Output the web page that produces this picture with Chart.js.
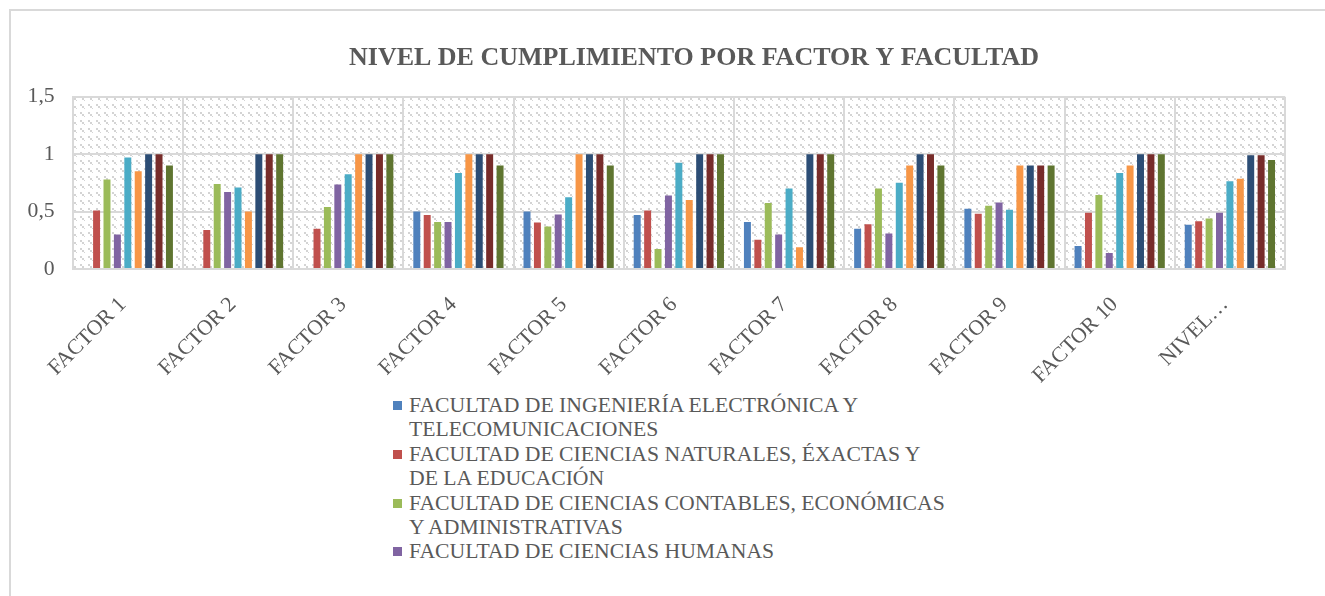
<!DOCTYPE html>
<html lang="es">
<head>
    <meta charset="UTF-8">
    <title>Nivel de cumplimiento por factor y facultad</title>
    <script src="https://cdn.jsdelivr.net/npm/chart.js"></script>
    <style>
        html, body { margin: 0; padding: 0; background: #fff; overflow: hidden; }
        #marco {
            position: absolute; left: 9px; top: 9px;
            width: 1400px; height: 700px;
            border: 2px solid #d9d9d9;
        }
        #grafico { position: absolute; left: 0; top: 0; }
        #leyenda {
            position: absolute; left: 393px; top: 393px;
            font-family: "Liberation Serif", "Times New Roman", serif;
            font-size: 21.7px; line-height: 24.4px; color: #595959;
        }
        .item { position: relative; padding-left: 16px; width: 540px; }
        .item span.caja {
            position: absolute; left: 0; top: 8px; width: 9px; height: 9px;
        }
    </style>
</head>
<body>
    <div id="marco"></div>
    <canvas id="grafico" width="1388" height="390"></canvas>
    <div id="leyenda"></div>
    <script>
    const factores = ['FACTOR 1', 'FACTOR 2', 'FACTOR 3', 'FACTOR 4', 'FACTOR 5', 'FACTOR 6',
        'FACTOR 7', 'FACTOR 8', 'FACTOR 9', 'FACTOR 10', 'NIVEL…'];

    const facultades = [
        'FACULTAD DE INGENIERÍA ELECTRÓNICA Y TELECOMUNICACIONES',
        'FACULTAD DE CIENCIAS NATURALES, ÉXACTAS Y DE LA EDUCACIÓN',
        'FACULTAD DE CIENCIAS CONTABLES, ECONÓMICAS Y ADMINISTRATIVAS',
        'FACULTAD DE CIENCIAS HUMANAS',
        'FACULTAD DE CIENCIAS DE LA SALUD',
        'FACULTAD DE DERECHO, CIENCIAS POLÍTICAS Y SOCIALES',
        'FACULTAD DE ARTES',
        'FACULTAD DE CIENCIAS AGRARIAS',
        'FACULTAD DE INGENIERÍA CIVIL'
    ];

    const colores = ['#4F81BD', '#C0504D', '#9BBB59', '#8064A2', '#4BACC6',
        '#F79646', '#2C4D75', '#772C2A', '#5F7530'];

    const electronica = [0, 0, 0, 0.5, 0.5, 0.47, 0.41, 0.35, 0.525, 0.2, 0.385];
    const naturales = [0.51, 0.34, 0.35, 0.47, 0.405, 0.51, 0.255, 0.39, 0.48, 0.49, 0.415];
    const contables = [0.78, 0.74, 0.54, 0.41, 0.37, 0.175, 0.575, 0.70, 0.55, 0.645, 0.44];
    const humanas = [0.30, 0.67, 0.735, 0.41, 0.475, 0.64, 0.30, 0.31, 0.58, 0.14, 0.49];
    const salud = [0.97, 0.71, 0.825, 0.835, 0.625, 0.925, 0.70, 0.75, 0.515, 0.835, 0.765];
    const derecho = [0.85, 0.5, 1, 1, 1, 0.6, 0.19, 0.9, 0.9, 0.9, 0.785];
    const artes = [1, 1, 1, 1, 1, 1, 1, 1, 0.9, 1, 0.99];
    const agrarias = [1, 1, 1, 1, 1, 1, 1, 1, 0.9, 1, 0.99];
    const civil = [0.9, 1, 1, 0.9, 0.9, 1, 1, 0.9, 0.9, 1, 0.95];

    const series = [electronica, naturales, contables, humanas, salud, derecho, artes, agrarias, civil];

    // la leyenda del gráfico solo alcanza a mostrar las primeras facultades
    const itemsLeyenda = 4;

    const titulo = 'NIVEL DE CUMPLIMIENTO POR FACTOR Y FACULTAD';
    const gris = '#595959';
    const fuente = '"Liberation Serif", "Times New Roman", serif';

    // fondo rayado del área de trazado (diagonales punteadas)
    function crearTrama() {
        const c = document.createElement('canvas');
        c.width = 8;
        c.height = 8;
        const g = c.getContext('2d');
        g.fillStyle = '#d4d4d4';
        g.fillRect(0, 0, 2, 2);
        g.fillRect(2, 2, 2, 2);
        g.fillRect(4, 4, 1, 1);
        return c;
    }

    const fondoRayado = {
        id: 'fondoRayado',
        beforeDraw(chart) {
            const area = chart.chartArea;
            const ctx = chart.ctx;
            ctx.save();
            ctx.fillStyle = ctx.createPattern(crearTrama(), 'repeat');
            ctx.fillRect(area.left, area.top, area.right - area.left, area.bottom - area.top);
            ctx.restore();
        }
    };

    const tituloCentrado = {
        id: 'tituloCentrado',
        afterDraw(chart) {
            const ctx = chart.ctx;
            ctx.save();
            ctx.font = 'bold 26px ' + fuente;
            ctx.fillStyle = gris;
            ctx.textAlign = 'center';
            ctx.textBaseline = 'middle';
            ctx.fillText(titulo, 694, 58);
            ctx.restore();
        }
    };

    document.addEventListener('DOMContentLoaded', function() {
        new Chart(document.getElementById('grafico').getContext('2d'), {
            type: 'bar',
            data: {
                labels: factores,
                datasets: series.map((valores, i) => ({
                    label: facultades[i],
                    data: valores,
                    backgroundColor: colores[i],
                    borderWidth: 0,
                    categoryPercentage: 0.85,
                    barPercentage: 0.67
                }))
            },
            options: {
                responsive: false,
                animation: false,
                layout: { padding: { left: 10, right: 103, top: 96.7, bottom: 0 } },
                plugins: {
                    legend: { display: false },
                    title: { display: false },
                    tooltip: { enabled: false }
                },
                scales: {
                    x: {
                        grid: { color: '#d9d9d9', lineWidth: 2, offset: true, drawTicks: false },
                        border: { color: '#d9d9d9', width: 2 },
                        ticks: {
                            color: gris,
                            font: { family: fuente, size: 21.7 },
                            minRotation: 45,
                            maxRotation: 45,
                            autoSkip: false,
                            padding: 23,
                            labelOffset: -5
                        },
                        afterFit(scale) { scale.height = 121; }
                    },
                    y: {
                        min: 0,
                        max: 1.5,
                        grid: { color: '#d9d9d9', lineWidth: 2, drawTicks: false },
                        border: { color: '#d9d9d9', width: 2 },
                        ticks: {
                            stepSize: 0.5,
                            color: gris,
                            font: { family: fuente, size: 21.7 },
                            padding: 18,
                            callback: (v) => String(v).replace('.', ',')
                        },
                        afterFit(scale) { scale.width = 62.7; }
                    }
                }
            },
            plugins: [fondoRayado, tituloCentrado]
        });

        // leyenda en HTML para poder partir los nombres largos en dos líneas
        const leyenda = document.getElementById('leyenda');
        for (let i = 0; i < itemsLeyenda; i++) {
            const item = document.createElement('div');
            item.className = 'item';
            const caja = document.createElement('span');
            caja.className = 'caja';
            caja.style.background = colores[i];
            item.appendChild(caja);
            item.appendChild(document.createTextNode(facultades[i]));
            leyenda.appendChild(item);
        }
    });
    </script>
</body>
</html>
